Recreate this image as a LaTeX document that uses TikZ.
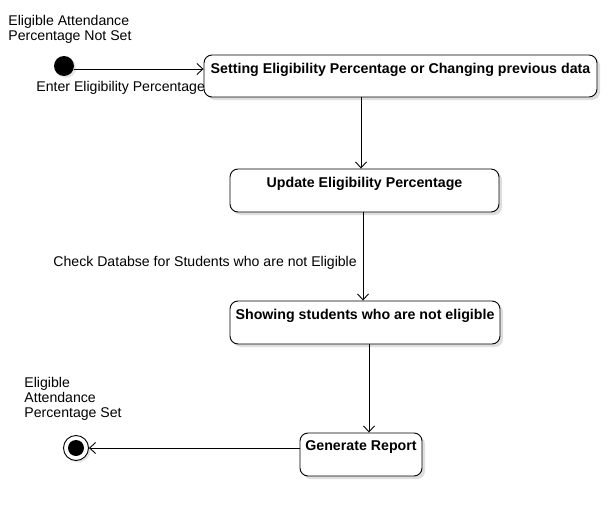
\documentclass[tikz,border=0pt]{standalone}
\usepackage{fontspec}
\setmainfont{Liberation Sans}
\usetikzlibrary{arrows.meta,shadows}
\begin{document}
\begin{tikzpicture}[x=1pt,y=-1pt,
  font=\fontsize{14.1}{15}\selectfont,
  every path/.style={line width=0.9pt},
  statebox/.style={draw=black, fill=white, rounded corners=8pt, inner sep=0pt,
    drop shadow={shadow xshift=3pt, shadow yshift=-3pt, fill=black!13, opacity=1}},
  boxtext/.style={font=\fontsize{14.2}{15}\selectfont\bfseries, inner sep=0pt, anchor=north},
  plain/.style={inner sep=0pt, align=left},
  arr/.style={draw=black, -{Straight Barb[length=6pt,width=11pt,line width=0.9pt]}}]
\useasboundingbox (0,0) rectangle (608,511);
% initial state
\node[circle, fill=black, minimum size=20pt, inner sep=0pt,
  drop shadow={shadow xshift=2pt, shadow yshift=-2pt, fill=black!10, opacity=1}] (init) at (64,66) {};
\node[plain, anchor=north west] (lblstart) at (8,15) {Eligible Attendance\\Percentage Not Set};
% boxes
\node[statebox, minimum width=393pt, minimum height=42pt] (b1) at (400.5,76) {};
\node[boxtext] (t1) at ([yshift=-8.5pt]b1.north) {Setting Eligibility Percentage or Changing previous data};
\node[statebox, minimum width=269pt, minimum height=43pt] (b2) at (364.5,190.5) {};
\node[boxtext] (t2) at ([yshift=-8pt]b2.north) {Update Eligibility Percentage};
\node[statebox, minimum width=270pt, minimum height=43pt] (b3) at (365,322.5) {};
\node[boxtext] (t3) at ([yshift=-8pt]b3.north) {Showing students who are not eligible};
\node[statebox, minimum width=122pt, minimum height=43pt] (b4) at (361,454.5) {};
\node[boxtext] (t4) at ([yshift=-8pt]b4.north) {Generate Report};
% final state
\node[circle, draw=black, fill=white, minimum size=25pt, inner sep=0pt,
  drop shadow={shadow xshift=2pt, shadow yshift=-2pt, fill=black!10, opacity=1}] (fin) at (76,448) {};
\node[circle, fill=black, minimum size=16pt, inner sep=0pt] (finin) at (fin) {};
\node[plain, anchor=north west] (lblend) at (24,377) {Eligible\\Attendance\\Percentage Set};
% helper coordinates
\coordinate (x1) at (361,0);
\coordinate (x2) at (363,0);
\coordinate (x3) at (369,0);
\coordinate (y0) at (0,69);
% connectors
\draw[arr] (init.east |- y0) -- (b1.west |- y0);
\node[plain, anchor=west] (lblenter) at (36,88) {Enter Eligibility Percentage};
\draw[arr] (b1.south -| x1) -- (b2.north -| x1);
\draw[arr] (b2.south -| x2) -- (b3.north -| x2);
\node[plain, anchor=west] (lblcheck) at (53,263) {Check Databse for Students who are not Eligible};
\draw[arr] (b3.south -| x3) -- (b4.north -| x3);
\draw[arr] (b4.west |- fin) -- (fin.east);
\end{tikzpicture}
\end{document}
